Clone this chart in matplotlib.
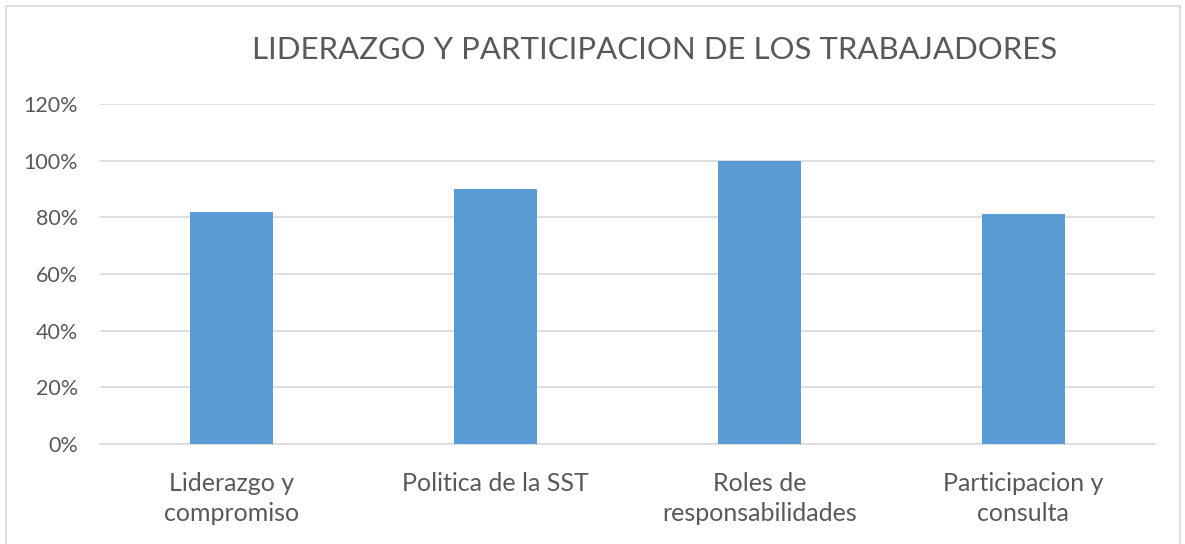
import matplotlib

matplotlib.use("Agg")
import matplotlib.pyplot as plt
import numpy as np
from matplotlib.patches import Rectangle
from matplotlib.ticker import PercentFormatter

plt.rcParams["font.family"] = ["Lato", "DejaVu Sans"]

TITLE = "LIDERAZGO Y PARTICIPACION DE LOS TRABAJADORES"
categories = [
    "Liderazgo y\ncompromiso",
    "Politica de la SST",
    "Roles de\nresponsabilidades",
    "Participacion y\nconsulta",
]
values = [0.82, 0.90, 1.00, 0.81]
y_ticks = [0.0, 0.2, 0.4, 0.6, 0.8, 1.0, 1.2]

TEXT = "#595959"
GRID = "#D9D9D9"
BAR = "#5B9BD5"

W, H = 1185, 544
fig = plt.figure(figsize=(W / 100, H / 100), dpi=100)
ax = fig.add_axes([100 / W, 1 - 444 / H, 1055 / W, 340 / H])

x = np.arange(len(categories))
ax.bar(x, values, width=0.315, color=BAR, zorder=3)

ax.set_xlim(-0.5, len(categories) - 0.5)
ax.set_ylim(0, 1.2)
ax.set_yticks(y_ticks)
ax.yaxis.set_major_formatter(PercentFormatter(1.0, decimals=0))
ax.set_xticks(x)
ax.set_xticklabels(categories, linespacing=1.4, va="top")
ax.tick_params(axis="y", length=0, pad=16, labelsize=15.5, labelcolor=TEXT)
ax.tick_params(axis="x", length=0, pad=20, labelsize=18, labelcolor=TEXT)
ax.grid(axis="y", color=GRID, linewidth=1.2, zorder=0)
for side in ("top", "right", "left"):
    ax.spines[side].set_visible(False)
ax.spines["bottom"].set_color(GRID)
ax.spines["bottom"].set_linewidth(1.2)

fig.text(655 / W, 1 - 50 / H, TITLE, ha="center", va="center",
         fontsize=22.4, color=TEXT)

# marco del gráfico
fig.patches.append(Rectangle((6 / W, -0.05), 1174 / W, 1.05 - 6 / H,
                             transform=fig.transFigure, fill=False,
                             edgecolor=GRID, linewidth=1.2))

fig.savefig("out.png", dpi=100)
